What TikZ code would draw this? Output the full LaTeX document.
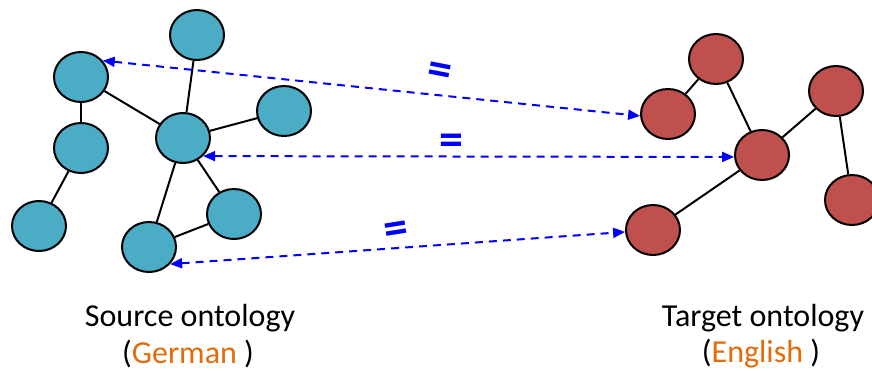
\documentclass[tikz,border=0pt]{standalone}
\usepackage{fontspec}
\setmainfont{Carlito}
\usetikzlibrary{arrows.meta,shapes.geometric}
\definecolor{aqua}{HTML}{4BACC6}
\definecolor{redn}{HTML}{C0504D}
\definecolor{orng}{HTML}{E36C09}
\begin{document}
\begin{tikzpicture}[x=1pt,y=-1pt,
  onode/.style={ellipse, draw=black, line width=2pt, minimum width=54pt, minimum height=50pt, inner sep=0pt},
  src/.style={onode, fill=aqua},
  tgt/.style={onode, fill=redn},
  edge/.style={draw=black, line width=2pt},
  mapping/.style={blue, line width=2pt, dash pattern=on 8pt off 6pt, {Triangle[length=12pt,width=10pt]}-{Triangle[length=12pt,width=10pt]}},
  eqs/.style={blue, font=\fontsize{48}{48}\selectfont\bfseries, inner sep=0pt},
  lbl/.style={font=\fontsize{32}{32}\selectfont, inner sep=0pt}
]
\useasboundingbox (0,0) rectangle (872,370);
% source ontology
\node[src] (A) at (197,35) {};
\node[src] (B) at (81,77) {};
\node[src] (C) at (81,148) {};
\node[src] (D) at (39,226) {};
\node[src] (E) at (183,138) {};
\node[src] (F) at (284,111) {};
\node[src] (G) at (234,214) {};
\node[src] (H) at (149,247) {};
% target ontology
\node[tgt] (P) at (716,59) {};
\node[tgt] (Q) at (668,114) {};
\node[tgt] (R) at (762,155) {};
\node[tgt] (S) at (836,91) {};
\node[tgt] (T) at (852,200) {};
\node[tgt] (U) at (653,230) {};
% edges
\draw[edge] (B) -- (C);
\draw[edge] (C) -- (D);
\draw[edge] (B) -- (E);
\draw[edge] (A) -- (E);
\draw[edge] (E) -- (F);
\draw[edge] (E) -- (H);
\draw[edge] (E) -- (G);
\draw[edge] (H) -- (G);
\draw[edge] (Q) -- (P);
\draw[edge] (P) -- (R);
\draw[edge] (R) -- (S);
\draw[edge] (S) -- (T);
\draw[edge] (R) -- (U);
% mappings
\draw[mapping] (B.37) -- (Q.184);
\draw[mapping] (E.-42) -- (R.184);
\draw[mapping] (H.-39) -- (U.184);
\node[eqs, rotate=-11] (eq1) at (439,74) {=};
\node[eqs] (eq2) at (451,145) {=};
\node[eqs, rotate=9] (eq3) at (397,233) {=};
% labels
\node[lbl] (srcl) at (190,318) {Source ontology};
\node[lbl] (srcg) at (188,354) {(\textcolor{orng}{German} )};
\node[lbl] (tgtl) at (763,318) {Target ontology};
\node[lbl] (tgte) at (761,354) {(\textcolor{orng}{English} )};
\end{tikzpicture}
\end{document}
